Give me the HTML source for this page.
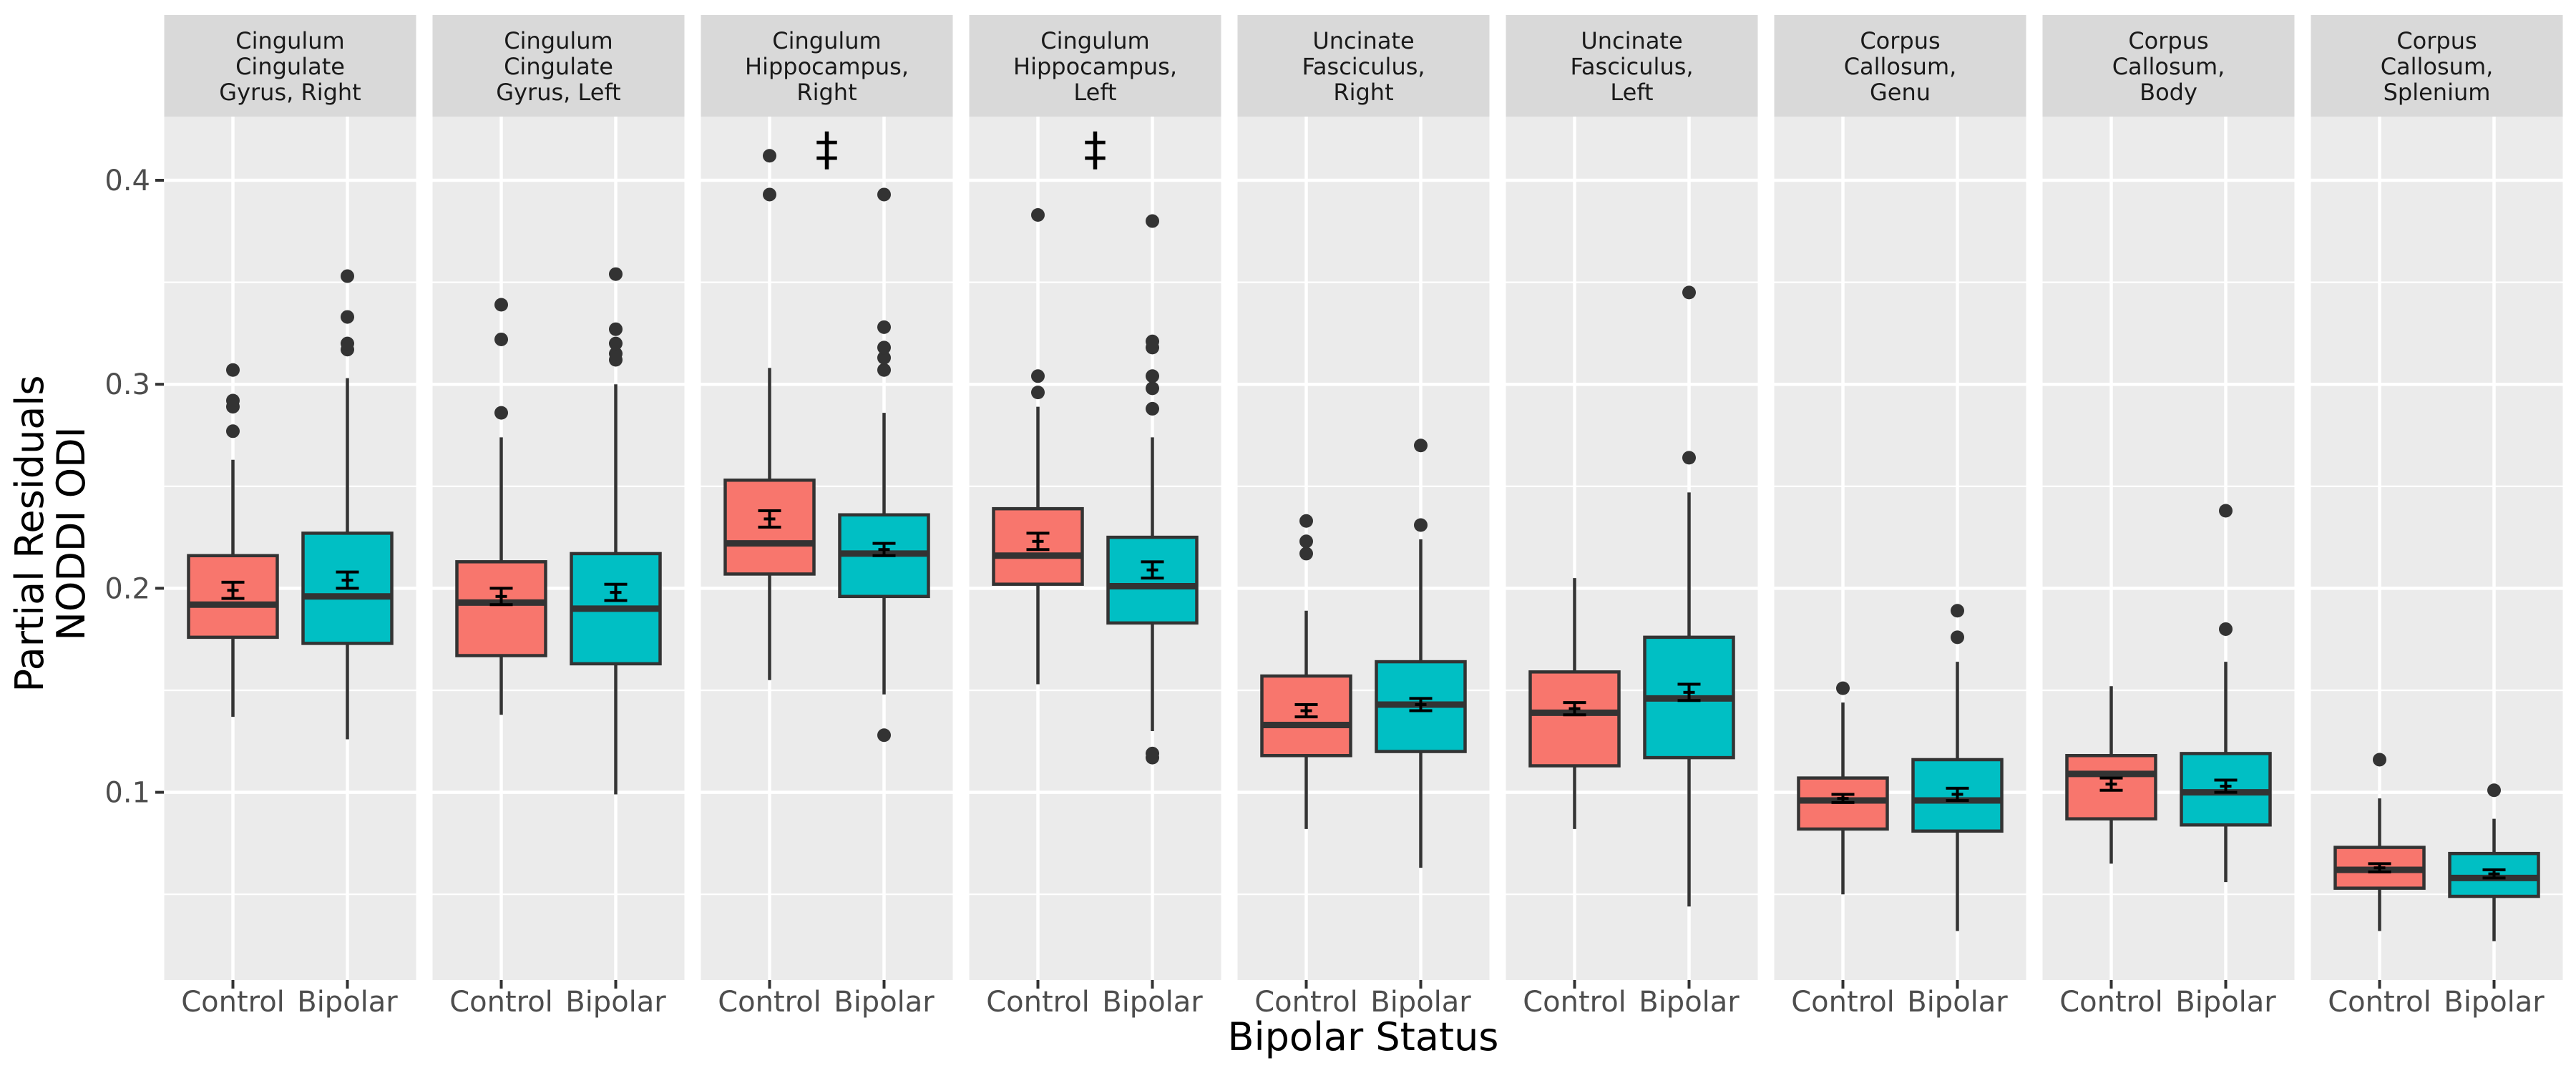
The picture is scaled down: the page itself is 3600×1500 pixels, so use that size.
<!DOCTYPE html>
<html><head><meta charset="utf-8"><style>
body{margin:0;background:#fff}
svg{display:block}
text{font-family:"DejaVu Sans","Liberation Sans",sans-serif}
</style></head><body>
<svg id="chart" width="3600" height="1500" viewBox="0 0 3600 1500" xmlns="http://www.w3.org/2000/svg">
<g id="yaxis"></g>
<g id="panels"></g>
<text transform="translate(60,746) rotate(-90)" text-anchor="middle" font-size="54" fill="#000">Partial Residuals</text>
<text transform="translate(118,746) rotate(-90)" text-anchor="middle" font-size="54" fill="#000">NODDI ODI</text>
<text x="1905" y="1468" text-anchor="middle" font-size="54" fill="#000">Bipolar Status</text>
</svg>
<script>
const panelNames=[["Cingulum","Cingulate","Gyrus, Right"],["Cingulum","Cingulate","Gyrus, Left"],["Cingulum","Hippocampus,","Right"],["Cingulum","Hippocampus,","Left"],["Uncinate","Fasciculus,","Right"],["Uncinate","Fasciculus,","Left"],["Corpus","Callosum,","Genu"],["Corpus","Callosum,","Body"],["Corpus","Callosum,","Splenium"]];
const groups=["Control","Bipolar"];
const yTicks=[0.1,0.2,0.3,0.4];
const yTickLabels=["0.1","0.2","0.3","0.4"];
// [whiskerLow, Q1, median, Q3, whiskerHigh] per panel: control, bipolar
const ctrlStats=[[0.137,0.176,0.192,0.216,0.263],[0.138,0.167,0.193,0.213,0.274],[0.155,0.207,0.222,0.253,0.308],[0.153,0.202,0.216,0.239,0.289],[0.082,0.118,0.133,0.157,0.189],[0.082,0.113,0.139,0.159,0.205],[0.050,0.082,0.096,0.107,0.144],[0.065,0.087,0.109,0.118,0.152],[0.032,0.053,0.062,0.073,0.097]];
const bipStats=[[0.126,0.173,0.196,0.227,0.303],[0.099,0.163,0.190,0.217,0.300],[0.148,0.196,0.217,0.236,0.286],[0.130,0.183,0.201,0.225,0.274],[0.063,0.120,0.143,0.164,0.224],[0.044,0.117,0.146,0.176,0.247],[0.032,0.081,0.096,0.116,0.164],[0.056,0.084,0.100,0.119,0.164],[0.027,0.049,0.058,0.070,0.087]];
const ctrlOutliers=[[0.277,0.289,0.292,0.307],[0.286,0.322,0.339],[0.393,0.412],[0.296,0.304,0.383],[0.217,0.223,0.233],[],[0.151],[],[0.116]];
const bipOutliers=[[0.317,0.320,0.333,0.353],[0.312,0.315,0.320,0.327,0.354],[0.128,0.307,0.313,0.318,0.328,0.393],[0.117,0.119,0.288,0.298,0.304,0.318,0.321,0.380],[0.231,0.270],[0.264,0.345],[0.176,0.189],[0.180,0.238],[0.101]];
const ctrlMean=[0.199,0.196,0.234,0.223,0.140,0.141,0.097,0.104,0.063];
const ctrlSE=[0.004,0.004,0.004,0.004,0.003,0.003,0.002,0.003,0.002];
const bipMean=[0.204,0.198,0.219,0.209,0.143,0.149,0.099,0.103,0.060];
const bipSE=[0.004,0.004,0.003,0.004,0.003,0.004,0.003,0.003,0.002];
const daggerPanels=[2,3];
const daggerValue=0.416;

const NS="http://www.w3.org/2000/svg";
const P0=229.5,PW=352,PG=23,STRIP_TOP=21,PTOP=163,PBOT=1370;
const yS=v=>252+(0.4-v)*2852;
const xS=(p,g)=>P0+p*(PW+PG)+96+g*160;
function mk(tag,attrs,parent){const e=document.createElementNS(NS,tag);for(const k in attrs)e.setAttribute(k,attrs[k]);parent.appendChild(e);return e;}
const ya=document.getElementById('yaxis');
yTicks.forEach((t,i)=>{
  const tk=mk('line',{x1:217,x2:229,y1:yS(t),y2:yS(t),stroke:'#333','stroke-width':4},ya);
  
  
  const lb=mk('text',{x:210,y:yS(t)+14,'text-anchor':'end','font-size':40,fill:'#4d4d4d'},ya);
  lb.textContent=yTickLabels[i];
  
  
});
const pg=document.getElementById('panels');
panelNames.forEach((nm,p)=>{
  const g=mk('g',{},pg);
  
  
  const L=P0+p*(PW+PG);
  const st=mk('rect',{x:L,y:STRIP_TOP,width:PW,height:PTOP-STRIP_TOP,fill:'#d9d9d9'},g);
  
  
  nm.forEach((ln,i)=>{const t=mk('text',{x:L+PW/2,y:STRIP_TOP+47+i*36,'text-anchor':'middle','font-size':32,fill:'#1a1a1a'},g);t.textContent=ln;
    
    });
  const bg=mk('rect',{x:L,y:PTOP,width:PW,height:PBOT-PTOP,fill:'#ebebeb'},g);
  
  
  for(let v=0.05;v<0.44;v+=0.1){mk('line',{x1:L,x2:L+PW,y1:yS(v),y2:yS(v),stroke:'#fff','stroke-width':2.2},g);}
  yTicks.forEach(t=>mk('line',{x1:L,x2:L+PW,y1:yS(t),y2:yS(t),stroke:'#fff','stroke-width':4.5},g));
  groups.forEach((gn,gi)=>{
    const x=xS(p,gi);
    mk('line',{x1:x,x2:x,y1:PTOP,y2:PBOT,stroke:'#fff','stroke-width':4.5},g);
    const tk=mk('line',{x1:x,x2:x,y1:PBOT,y2:PBOT+12,stroke:'#333','stroke-width':4},g);
    
    
    const lb=mk('text',{x:x,y:PBOT+44,'text-anchor':'middle','font-size':40,fill:'#4d4d4d'},g);
    lb.textContent=gn;
    
    
  });
  groups.forEach((gn,gi)=>{
    const s=gi?bipStats[p]:ctrlStats[p],o=gi?bipOutliers[p]:ctrlOutliers[p];
    const m=gi?bipMean[p]:ctrlMean[p],se=gi?bipSE[p]:ctrlSE[p];
    const x=xS(p,gi),fill=gi?'#00bfc4':'#f8766d';
    const bx=mk('g',{},g);
    
    
    mk('line',{x1:x,x2:x,y1:yS(s[4]),y2:yS(s[3]),stroke:'#333','stroke-width':4.5},bx);
    mk('line',{x1:x,x2:x,y1:yS(s[1]),y2:yS(s[0]),stroke:'#333','stroke-width':4.5},bx);
    mk('rect',{x:x-62,y:yS(s[3]),width:124,height:yS(s[1])-yS(s[3]),fill:fill,stroke:'#333','stroke-width':4.5},bx);
    mk('line',{x1:x-62,x2:x+62,y1:yS(s[2]),y2:yS(s[2]),stroke:'#333','stroke-width':9},bx);
    o.forEach(v=>{const c=mk('circle',{cx:x,cy:yS(v),r:9.5,fill:'#333'},bx);
      
      });
    const eb=mk('g',{stroke:'#000','stroke-width':4},g);
    
    
    mk('line',{x1:x,x2:x,y1:yS(m+se),y2:yS(m-se)},eb);
    mk('line',{x1:x-16,x2:x+16,y1:yS(m+se),y2:yS(m+se)},eb);
    mk('line',{x1:x-16,x2:x+16,y1:yS(m-se),y2:yS(m-se)},eb);
    mk('line',{x1:x-8,x2:x+8,y1:yS(m),y2:yS(m)},eb);
  });
  if(daggerPanels.includes(p)){
    const t=mk('text',{x:L+PW/2,y:yS(daggerValue)+24,'text-anchor':'middle','font-size':64,fill:'#000'},g);
    t.textContent='‡';
    
    
  }
});
</script>
</body></html>
